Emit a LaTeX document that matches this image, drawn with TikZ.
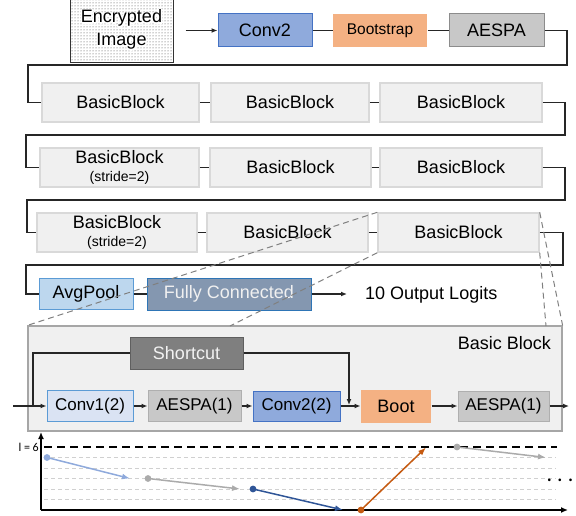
\documentclass[tikz,border=0pt]{standalone}
\usepackage{fontspec}
\setmainfont{Liberation Sans}
\newfontfamily\calfont{Carlito}
\usetikzlibrary{arrows.meta,patterns,calc}

\definecolor{cblue}{HTML}{8FAADC}
\definecolor{cblueD}{HTML}{4472C4}
\definecolor{corange}{HTML}{F4B183}
\definecolor{cgray}{HTML}{C8C8C8}
\definecolor{cgrayD}{HTML}{8C8C8C}
\definecolor{bbfill}{HTML}{F0F0F0}
\definecolor{bbdraw}{HTML}{D9D9D9}
\definecolor{avgfill}{HTML}{BDD7EE}
\definecolor{avgdraw}{HTML}{5B9BD5}
\definecolor{fcfill}{HTML}{8497B0}
\definecolor{fcdraw}{HTML}{2E75B6}
\definecolor{contdraw}{HTML}{A6A6A6}
\definecolor{scfill}{HTML}{7F7F7F}
\definecolor{scdraw}{HTML}{5F5F5F}
\definecolor{conefill}{HTML}{DAE3F3}
\definecolor{lvblue}{HTML}{8FAADC}
\definecolor{lvgray}{HTML}{ABABAB}
\definecolor{lvdblue}{HTML}{2F5597}
\definecolor{lvorange}{HTML}{C55A11}
\definecolor{lvlines}{HTML}{D0D0D0}

% white outline behind a word: one stroked copy (text render mode 1), then the word itself
\newcommand\halo[1]{\makebox[0pt][l]{\special{pdf:code q 1 Tr 3 w 1 j 1 J 1 1 1 RG 1 1 1 rg}#1\special{pdf:code Q}}#1}

\tikzset{
  box/.style={inner sep=0pt, line width=1pt, font=\fontsize{18}{21}\selectfont, align=center},
  bluebox/.style={box, fill=cblue, draw=cblueD},
  bootbox/.style={box, fill=corange},
  graybox/.style={box, fill=cgray, draw=cgrayD},
  bbox/.style={box, fill=bbfill, draw=bbdraw, line width=1.4pt, minimum height=39pt},
  conn/.style={line width=1.2pt, draw=black!85},
  arr/.style={conn, -{Latex[length=6pt,width=5pt]}},
  zoomline/.style={draw=gray, line width=1pt, dash pattern=on 6pt off 4pt},
  lvarrow/.style={line width=1.5pt, -{Latex[length=8pt,width=6pt]}},
  lvline/.style={draw=lvlines, line width=0.8pt, dash pattern=on 4pt off 3pt},
}

\begin{document}
\begin{tikzpicture}[x=1pt,y=-1pt]
\useasboundingbox (0,0) rectangle (576,516);

% ---- top row
\node[box, draw=black!80, preaction={fill=white}, pattern=dots, pattern color=black!75,
      minimum width=103pt, minimum height=66pt] (enc) at (121.5,29.5) {\halo{Encrypted}\\[2pt]\halo{Image}};
\node[bluebox, minimum width=94pt, minimum height=33pt] (conv2) at (265,30.5) {Conv2};
\node[bootbox, minimum width=94pt, minimum height=33pt, font=\fontsize{15.5}{18}\selectfont] (bootstrap) at (380,30.5) {Bootstrap};
\node[graybox, minimum width=95pt, minimum height=33pt] (aespa) at (496.5,30.5) {AESPA};
\draw[arr, shorten <=12pt] (enc.east |- conv2.west) -- (conv2.west);
\draw[conn] (conv2) -- (bootstrap);
\draw[conn] (bootstrap) -- (aespa);

% ---- row 1
\node[bbox, minimum width=157pt] (b11) at (120.5,102.5) {BasicBlock};
\node[bbox, minimum width=158pt] (b12) at (290,102.5) {BasicBlock};
\node[bbox, minimum width=162pt] (b13) at (461,102.5) {BasicBlock};
% ---- row 2
\node[bbox, minimum width=159pt] (b21) at (119.5,167.5) {BasicBlock\\[-3pt]{\fontsize{14}{16}\selectfont (stride=2)}};
\node[bbox, minimum width=161pt] (b22) at (290.5,167.5) {BasicBlock};
\node[bbox, minimum width=162pt] (b23) at (461,167.5) {BasicBlock};
% ---- row 3
\node[bbox, minimum width=160pt] (b31) at (117,232.5) {BasicBlock\\[-3pt]{\fontsize{14}{16}\selectfont (stride=2)}};
\node[bbox, minimum width=161pt] (b32) at (287.5,232.5) {BasicBlock};
\node[bbox, minimum width=161pt] (b33) at (458.5,232.5) {BasicBlock};
% ---- row 4
\node[box, fill=avgfill, draw=avgdraw, minimum width=94pt, minimum height=31pt] (avg) at (86,294) {AvgPool};
\node[box, fill=fcfill, draw=fcdraw, text=white!88!gray, minimum width=164pt, minimum height=32pt] (fc) at (229,294) {Fully Connected};
\node[anchor=west, inner sep=0pt, font=\fontsize{18}{21}\selectfont] (logits) at (365,295) {10 Output Logits};

% ---- row connectors
\coordinate (r0a) at (567,65);  \coordinate (r0b) at (28,65);
\coordinate (r1a) at (565,135); \coordinate (r1b) at (26,135);
\coordinate (r2a) at (565,200); \coordinate (r2b) at (27,200);
\coordinate (r3a) at (563,265); \coordinate (r3b) at (26,265);
\draw[conn] (aespa.east) -| (r0a) -- (r0b) |- (b11.west);
\draw[conn] (b11) -- (b12);
\draw[conn] (b12) -- (b13);
\draw[conn] (b13.east) -| (r1a) -- (r1b) |- (b21.west);
\draw[conn] (b21) -- (b22);
\draw[conn] (b22) -- (b23);
\draw[conn] (b23.east) -| (r2a) -- (r2b) |- (b31.west);
\draw[conn] (b31) -- (b32);
\draw[conn] (b32) -- (b33);
\draw[conn] (b33.east) -| (r3a) -- (r3b) |- (avg.west);
\draw[conn] (avg) -- (fc);
\draw[arr, shorten >=18pt] (fc.east) -- (fc.east -| logits.west);

% ---- basic block detail
\node[draw=contdraw, fill=bbfill, line width=1.2pt, minimum width=534pt, minimum height=105pt, inner sep=0pt] (cont) at (295,378.5) {};
\node[anchor=east, inner sep=0pt, font=\fontsize{18}{21}\selectfont] (bblabel) at (551,343) {Basic Block};
\node[box, fill=scfill, draw=scdraw, text=white!90!gray, minimum width=113pt, minimum height=32pt] (sc) at (186.5,353) {Shortcut};
\node[box, fill=conefill, draw=avgdraw, minimum width=86pt, minimum height=31pt, font=\fontsize{17}{20}\selectfont] (conv1) at (90,406) {Conv1(2)};
\node[graybox, draw=cgrayD!70, minimum width=93pt, minimum height=31pt, font=\fontsize{17}{20}\selectfont] (aespa1) at (194.5,406) {AESPA(1)};
\node[bluebox, minimum width=87pt, minimum height=30pt, font=\fontsize{17}{20}\selectfont] (conv22) at (296.5,406) {Conv2(2)};
\node[bootbox, minimum width=70pt, minimum height=33pt] (bootb) at (396,406) {Boot};
\node[graybox, draw=cgrayD!70, minimum width=91pt, minimum height=30pt, font=\fontsize{17}{20}\selectfont] (aespa2) at (503.5,406) {AESPA(1)};

\coordinate (in) at (13,406);
\coordinate (sc0) at (33,406);
\coordinate (sctip) at (349,405);
\coordinate (out) at (569,406);
\draw[arr] (in) -- (conv1.west);
\draw[conn] (sc0) |- (sc.west);
\draw[arr] (sc.east) -| (sctip);
\draw[arr] (conv1) -- (aespa1);
\draw[arr] (aespa1) -- (conv22);
\draw[arr] (conv22) -- (bootb);
\draw[arr] (bootb) -- (aespa2);
\draw[arr] (aespa2.east) -- (out);

% ---- zoom lines
\coordinate (z1) at (230,326);
\coordinate (z2) at (546,326);
\draw[zoomline] (b33.north west) -- (cont.north west);
\draw[zoomline] (b33.south west) -- (z1);
\draw[zoomline] (b33.north east) -- (cont.north east);
\draw[zoomline] (b33.south east) -- (z2);

% ---- level chart
\coordinate (O) at (41,510);
\coordinate (ytop) at (41,432);
\coordinate (xend) at (568,510);
\foreach \k in {1,...,5} \draw[lvline] (44,{510-10.5*\k}) -- (556,{510-10.5*\k});
\draw[black, line width=1.6pt, dash pattern=on 8pt off 5pt] (44,447) -- (557,447);
\node[anchor=east, inner sep=0pt, font=\calfont\fontsize{12}{13}\selectfont] (l6) at (39,447) {l = 6};
\draw[line width=1.3pt, -{Latex[length=7pt,width=6pt]}] (O) -- (ytop);
\draw[line width=1.3pt, -{Latex[length=7pt,width=6pt]}] (O) -- (xend);

\coordinate (p1) at (47,457.5);  \coordinate (q1) at (130,478.5);
\coordinate (p2) at (148,478.5); \coordinate (q2) at (240,489);
\coordinate (p3) at (253,489);   \coordinate (q3) at (343,510);
\coordinate (p4) at (361,510);   \coordinate (q4) at (426,447.5);
\coordinate (p5) at (457,447);   \coordinate (q5) at (546,457.5);
\draw[lvarrow, lvblue] (p1) -- (q1);   \fill[lvblue] (p1) circle (3.4);
\draw[lvarrow, lvgray] (p2) -- (q2);   \fill[lvgray] (p2) circle (3.4);
\draw[lvarrow, lvdblue] (p3) -- (q3);  \fill[lvdblue] (p3) circle (3.4);
\draw[lvarrow, lvorange] (p4) -- (q4); \fill[lvorange] (p4) circle (3.4);
\draw[lvarrow, lvgray] (p5) -- (q5);   \fill[lvgray] (p5) circle (3.4);
\node[anchor=base, inner sep=0pt, font=\calfont\fontsize{22}{24}\selectfont] (dots) at (560,481) {.\hspace{5pt}.\hspace{5pt}.};
\end{tikzpicture}
\end{document}
